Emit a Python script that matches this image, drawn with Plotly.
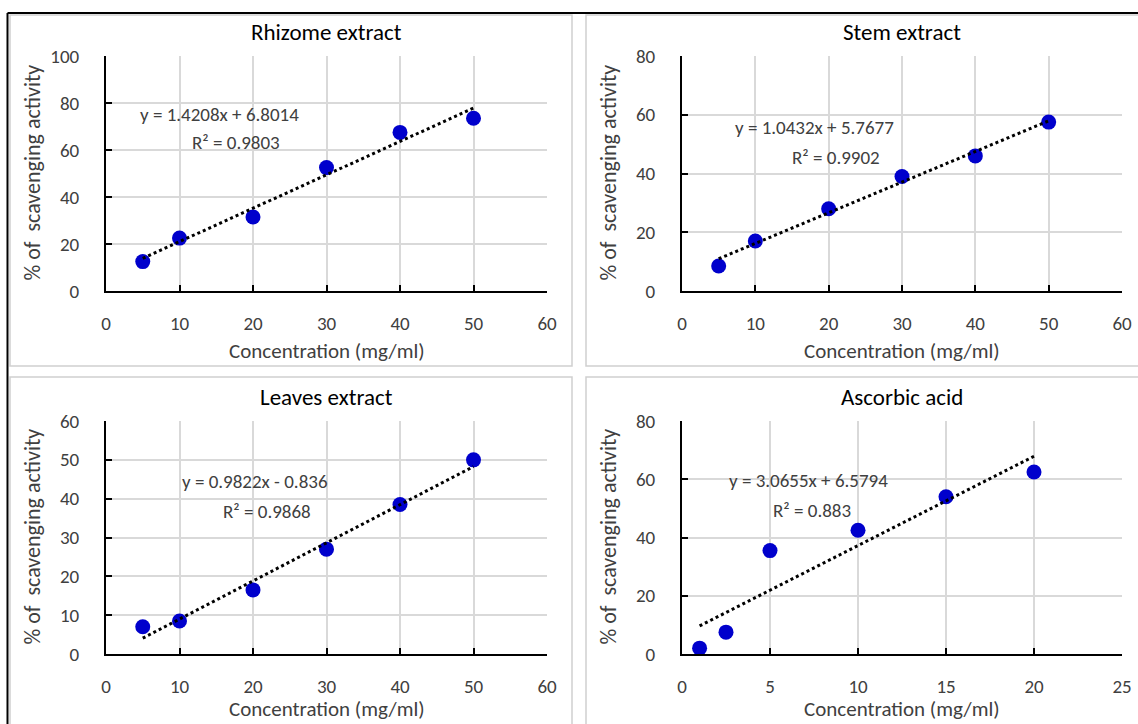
import plotly.graph_objects as go

W, H = 1138, 724

titles = ["Rhizome extract", "Stem extract", "Leaves extract", "Ascorbic acid"]
x_ext = [5, 10, 20, 30, 40, 50]
x_asc = [1, 2.5, 5, 10, 15, 20]
y_rhizome = [12.5, 22.5, 31.5, 52.5, 67.5, 73.5]
y_stem = [8.5, 17, 28, 39, 46, 57.5]
y_leaves = [7, 8.5, 16.5, 27, 38.5, 50]
y_ascorbic = [2, 7.5, 35.5, 42.5, 54, 62.5]
slopes = [1.4208, 1.0432, 0.9822, 3.0655]
intercepts = [6.8014, 5.7677, -0.836, 6.5794]
eq_texts = ["y = 1.4208x + 6.8014", "y = 1.0432x + 5.7677", "y = 0.9822x - 0.836", "y = 3.0655x + 6.5794"]
r2_texts = ["R² = 0.9803", "R² = 0.9902", "R² = 0.9868", "R² = 0.883"]
x_ranges = [[0, 60], [0, 60], [0, 60], [0, 25]]
x_dticks = [10, 10, 10, 5]
y_ranges = [[0, 100], [0, 80], [0, 60], [0, 80]]
y_dticks = [20, 20, 10, 20]
x_title = "Concentration (mg/ml)"
y_title = "% of  scavenging activity"

xs = [x_ext, x_ext, x_ext, x_asc]
ys = [y_rhizome, y_stem, y_leaves, y_ascorbic]

# layout positions in pixels
plot_boxes = [  # x0, x1, ytop, ybottom
    (106, 547, 56, 291),
    (682, 1122, 56, 291),
    (106, 547, 421, 654),
    (682, 1122, 421, 654),
]
xtitle_y = [351, 351, 709, 709]
eq_pos = [(15.5, 75, 17.7, 63), (18.1, 55.8, 21, 45.6), (20.3, 44.5, 21.9, 36.8), (7.2, 59.7, 7.4, 49.4)]

FONT = "Carlito, Lato, 'Open Sans', sans-serif"
TXT = "#404040"

def px(x):
    return x / W

def py(y):
    return 1 - y / H

fig = go.Figure()
annotations = []
shapes = []

for i in range(4):
    ax = "" if i == 0 else str(i + 1)
    x0, x1, yt, yb = plot_boxes[i]
    fig.add_trace(go.Scatter(
        x=xs[i], y=ys[i], mode="markers",
        marker=dict(color="#0000CC", size=15, line=dict(width=0)),
        xaxis="x" + ax, yaxis="y" + ax, showlegend=False, cliponaxis=False))
    xa, xb = xs[i][0], xs[i][-1]
    fig.add_trace(go.Scatter(
        x=[xa, xb], y=[slopes[i] * xa + intercepts[i], slopes[i] * xb + intercepts[i]],
        mode="lines", line=dict(color="black", width=3, dash="dot"),
        xaxis="x" + ax, yaxis="y" + ax, showlegend=False))
    common = dict(showline=True, linecolor="black", linewidth=2, ticks="inside",
                  ticklen=6, tickwidth=2, tickcolor="black", showgrid=True,
                  gridcolor="#d9d9d9", gridwidth=1.5, zeroline=False, automargin=False,
                  tickfont=dict(family=FONT, size=19, color=TXT), fixedrange=True)
    fig.update_layout(**{
        "xaxis" + ax: dict(domain=[px(x0), px(x1)], range=x_ranges[i], dtick=x_dticks[i],
                          anchor="y" + ax, ticklabelstandoff=14, **common),
        "yaxis" + ax: dict(domain=[py(yb), py(yt)], range=y_ranges[i], dtick=y_dticks[i],
                          anchor="x" + ax, ticklabelstandoff=21, **common),
    })
    cx = (x0 + x1) / 2
    annotations.append(dict(text=titles[i], x=px(cx), y=py(yt - 24), xref="paper", yref="paper",
                            showarrow=False, font=dict(family=FONT, size=23, color="black"),
                            xanchor="center", yanchor="middle"))
    annotations.append(dict(text=x_title, x=px(cx), y=py(xtitle_y[i]), xref="paper", yref="paper",
                            showarrow=False, font=dict(family=FONT, size=21, color=TXT),
                            xanchor="center", yanchor="middle"))
    annotations.append(dict(text=y_title, x=px(x0 - 74), y=py((yt + yb) / 2 - 1), xref="paper",
                            yref="paper", showarrow=False, textangle=-90,
                            font=dict(family=FONT, size=22, color=TXT),
                            xanchor="center", yanchor="middle"))
    ex, ey, rx, ry = eq_pos[i]
    annotations.append(dict(text=eq_texts[i], x=ex, y=ey, xref="x" + ax, yref="y" + ax,
                            showarrow=False, font=dict(family=FONT, size=19, color=TXT)))
    annotations.append(dict(text=r2_texts[i], x=rx, y=ry, xref="x" + ax, yref="y" + ax,
                            showarrow=False, font=dict(family=FONT, size=19, color=TXT)))

# panel frames
frames = [(10, 572, 15, 366), (586, 1150, 15, 366), (10, 572, 377, 740), (586, 1150, 377, 740)]
for fx0, fx1, fy0, fy1 in frames:
    shapes.append(dict(type="rect", xref="paper", yref="paper", x0=px(fx0), x1=px(fx1),
                       y0=py(fy1), y1=py(fy0), line=dict(color="#d0d0d0", width=1.5),
                       fillcolor="rgba(0,0,0,0)", layer="below"))
# outer black border
shapes.append(dict(type="line", xref="paper", yref="paper", x0=px(7.5), x1=1.01, y0=py(13), y1=py(13),
                   line=dict(color="black", width=2)))
shapes.append(dict(type="line", xref="paper", yref="paper", x0=px(7.5), x1=px(7.5), y0=-0.01, y1=py(13),
                   line=dict(color="black", width=2)))

fig.update_layout(width=W, height=H, margin=dict(l=0, r=0, t=0, b=0, autoexpand=False),
                  plot_bgcolor="white", paper_bgcolor="white",
                  annotations=annotations, shapes=shapes,
                  font=dict(family=FONT, color=TXT))
fig.write_html("out.html", config={"displayModeBar": False},
               post_script="document.body.style.margin='0px';document.body.style.overflow='hidden';")
